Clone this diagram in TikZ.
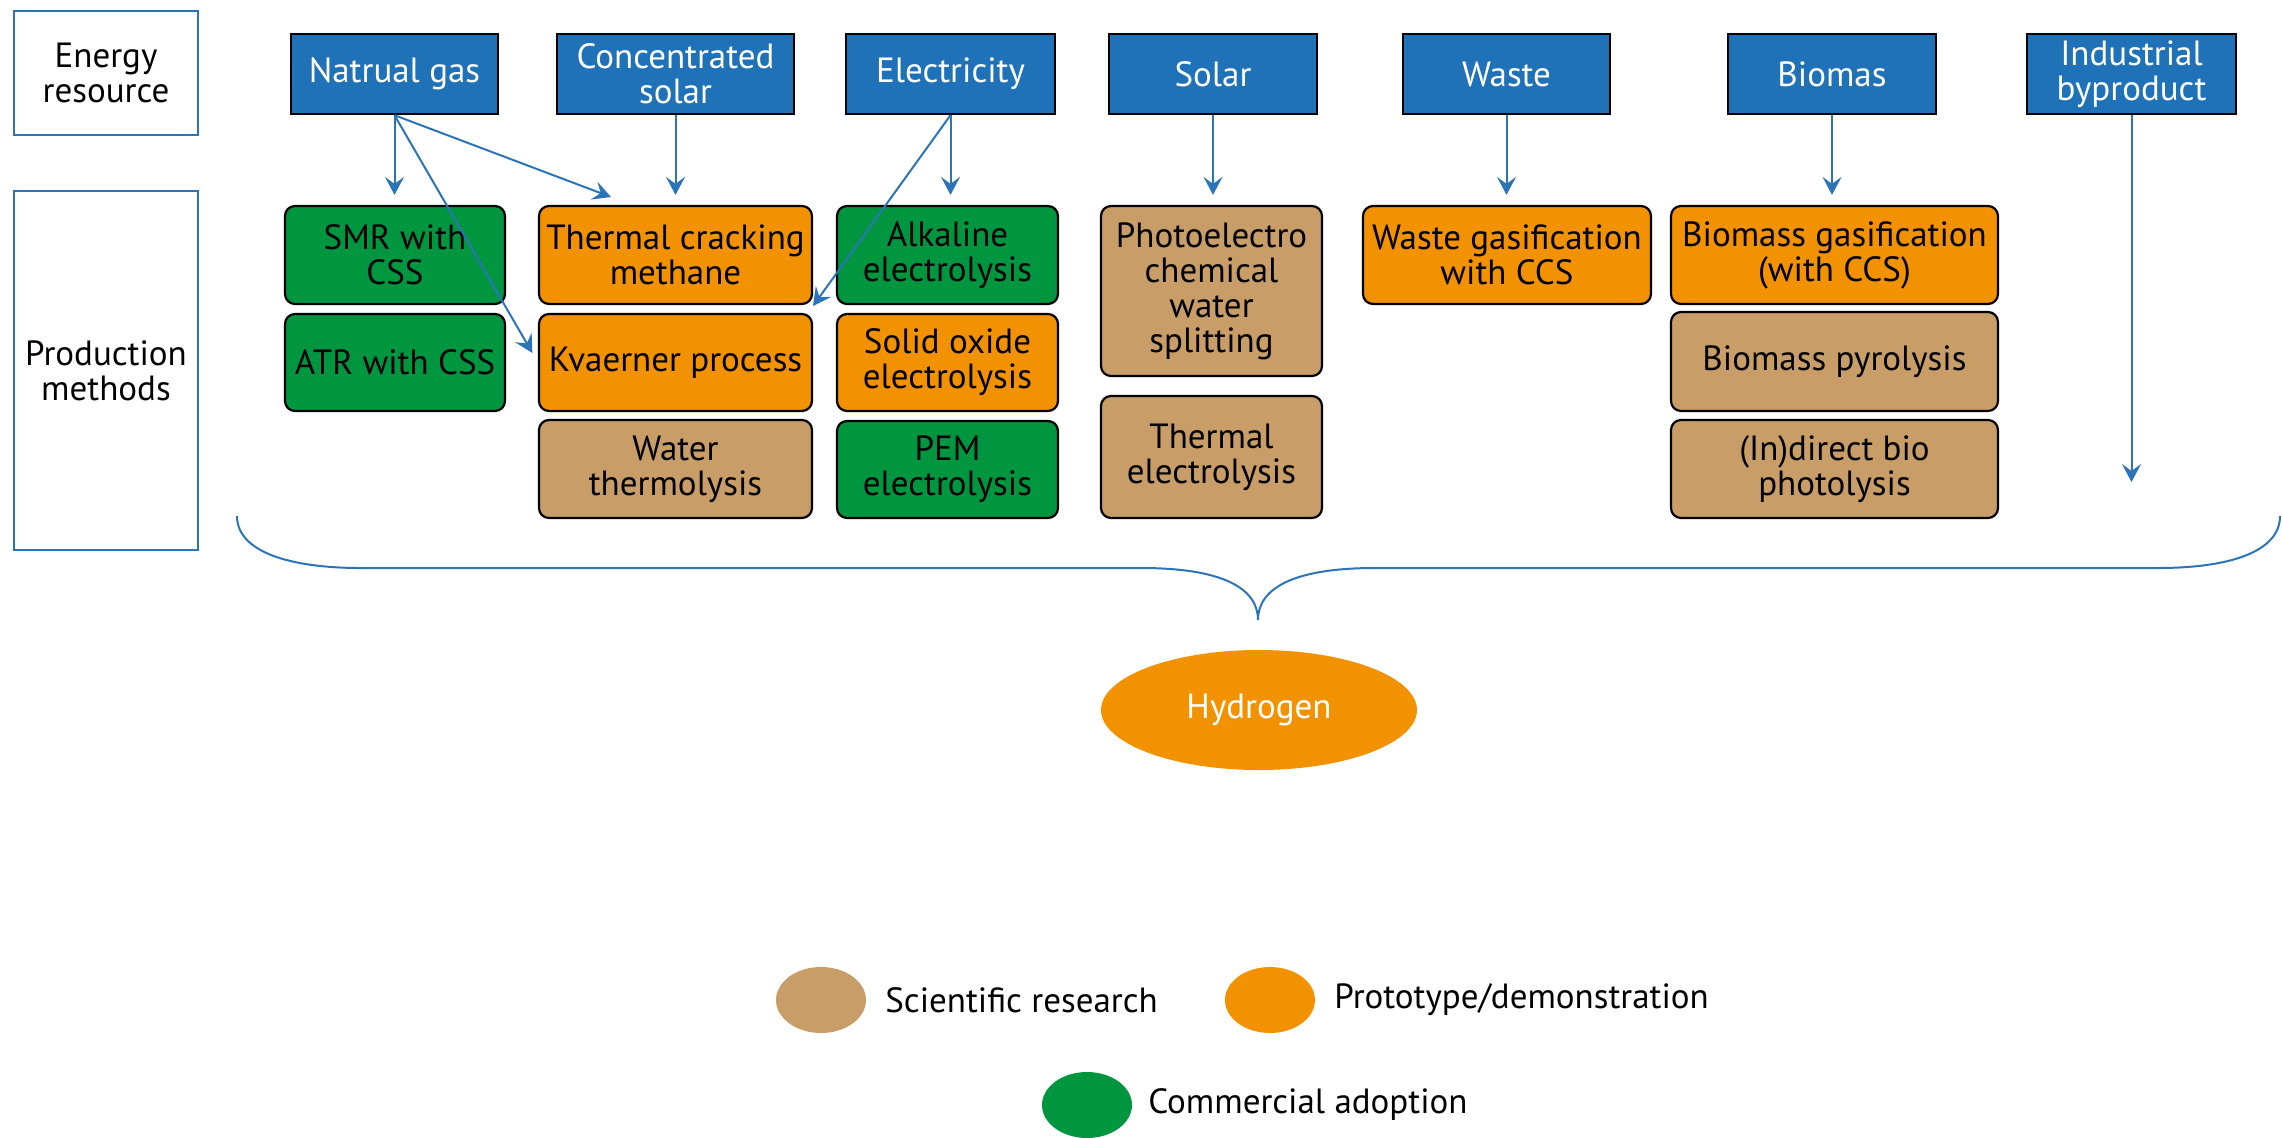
\documentclass[tikz,border=0pt]{standalone}
\usepackage{fontspec}
\setmainfont{PT Sans}
\usetikzlibrary{arrows.meta,shapes.geometric}
\definecolor{resblue}{RGB}{31,113,184}
\definecolor{arrblue}{RGB}{43,116,186}
\definecolor{labblue}{RGB}{43,116,186}
\definecolor{cgreen}{RGB}{0,150,64}
\definecolor{corange}{RGB}{243,146,0}
\definecolor{ctan}{RGB}{200,157,104}
\tikzset{
  every node/.style={font=\fontsize{17.5}{17.5}\selectfont, inner sep=0pt, align=center},
  labbox/.style={draw=labblue, line width=0.9pt, minimum width=92pt},
  res/.style={draw=black, line width=1.2pt, fill=resblue, text=white, minimum height=40pt},
  meth/.style={draw=black, line width=1.1pt, rounded corners=5pt, text=black},
  green/.style={meth, fill=cgreen},
  orng/.style={meth, fill=corange},
  tanb/.style={meth, fill=ctan},
  arr/.style={draw=arrblue, line width=1pt, -{Stealth[length=9pt,width=9.5pt,inset=3.5pt]}},
  legdot/.style={ellipse, minimum width=45pt, minimum height=33pt},
  legtext/.style={anchor=west, text=black}
}
\begin{document}
\begin{tikzpicture}[x=0.5pt,y=-0.5pt]
\useasboundingbox (0,0) rectangle (2282,1137);
% label boxes
\node[labbox, minimum height=62pt] (er) at (106,73) {Energy\\resource};
\node[labbox, minimum height=179.5pt] (pm) at (106,370.5) {Production\\methods};
% resource boxes
\node[res, minimum width=103.5pt] (ng) at (394.5,74) {Natrual gas};
\node[res, minimum width=118.5pt] (cs) at (675.5,74) {Concentrated\\solar};
\node[res, minimum width=104.5pt] (el) at (950.5,74) {Electricity};
\node[res, minimum width=104pt] (so) at (1213,74) {Solar};
\node[res, minimum width=103.5pt] (wa) at (1506.5,74) {Waste};
\node[res, minimum width=104pt] (bi) at (1832,74) {Biomas};
\node[res, minimum width=104.5pt] (ib) at (2131.5,74) {Industrial\\byproduct};
% methods
\node[green, minimum width=110pt, minimum height=49pt] (smr) at (395,255) {SMR with\\CSS};
\node[green, minimum width=110pt, minimum height=48.5pt] (atr) at (395,362.5) {ATR with CSS};
\node[orng, minimum width=136.5pt, minimum height=49pt] (tcm) at (675.5,255) {Thermal cracking\\methane};
\node[orng, minimum width=136.5pt, minimum height=48.5pt] (kv) at (675.5,362.5) {Kvaerner process};
\node[tanb, minimum width=136.5pt, minimum height=49pt] (wt) at (675.5,469) {Water\\thermolysis};
\node[green, minimum width=110.5pt, minimum height=49pt] (alk) at (947.5,255) {Alkaline\\electrolysis};
\node[orng, minimum width=110.5pt, minimum height=48.5pt] (soe) at (947.5,362.5) {Solid oxide\\electrolysis};
\node[green, minimum width=110.5pt, minimum height=48.5pt] (pem) at (947.5,469.5) {PEM\\electrolysis};
\node[tanb, minimum width=110.5pt, minimum height=85pt] (pec) at (1211.5,291) {Photoelectro\\chemical\\water\\splitting};
\node[tanb, minimum width=110.5pt, minimum height=61pt] (te) at (1211.5,457) {Thermal\\electrolysis};
\node[orng, minimum width=144pt, minimum height=49pt] (wg) at (1507,255) {Waste gasification\\with CCS};
\node[orng, minimum width=163.5pt, minimum height=49pt] (bg) at (1834.5,255) {Biomass gasification\\(with CCS)};
\node[tanb, minimum width=163.5pt, minimum height=49.5pt] (bp) at (1834.5,361.5) {Biomass pyrolysis};
\node[tanb, minimum width=163.5pt, minimum height=49pt] (ibp) at (1834.5,469) {(In)direct bio\\photolysis};
% free arrow ends
\coordinate (ngT) at (611,197);
\coordinate (elK) at (813,306);
\coordinate (ibE) at (2132,482);
% arrows
\draw[arr, shorten >=5pt] (ng.south) -- (ng.south |- smr.north);
\draw[arr] (ng.south) -- (ngT);
\draw[arr, shorten >=5.5pt] (ng.south) -- (kv.west);
\draw[arr, shorten >=5pt] (cs.south) -- (cs.south |- tcm.north);
\draw[arr, shorten >=5pt] (el.south) -- (el.south |- alk.north);
\draw[arr] (el.south) -- (elK);
\draw[arr, shorten >=5pt] (so.south) -- (so.south |- pec.north);
\draw[arr, shorten >=5pt] (wa.south) -- (wa.south |- wg.north);
\draw[arr, shorten >=5pt] (bi.south) -- (bi.south |- bg.north);
\draw[arr] (ib.south) -- (ib.south |- ibE);
% brace
\coordinate (brL) at (237,516);
\coordinate (brR) at (2280,516);
\coordinate (brT) at (1258,620);
\draw[draw=arrblue, line width=1pt]
  (brL) .. controls (237,552) and (290,568) .. (361,568)
  -- (1141,568) .. controls (1222,568) and (1258,588) .. (brT)
  .. controls (1258,588) and (1294,568) .. (1375,568)
  -- (2158,568) .. controls (2229,568) and (2280,552) .. (brR);
% hydrogen
\node[ellipse, fill=corange, text=white, minimum width=158pt, minimum height=60pt] (h2) at (1259,710) {Hydrogen};
% legend
\node[legdot, fill=ctan] (l1) at (821,1000) {};
\node[legtext] (l1t) at (885,1000) {Scientific research};
\node[legdot, fill=corange] (l2) at (1270,1000) {};
\node[legtext] (l2t) at (1334,1000) {Prototype/demonstration};
\node[legdot, fill=cgreen] (l3) at (1087,1105) {};
\node[legtext] (l3t) at (1148,1105) {Commercial adoption};
\end{tikzpicture}
\end{document}
